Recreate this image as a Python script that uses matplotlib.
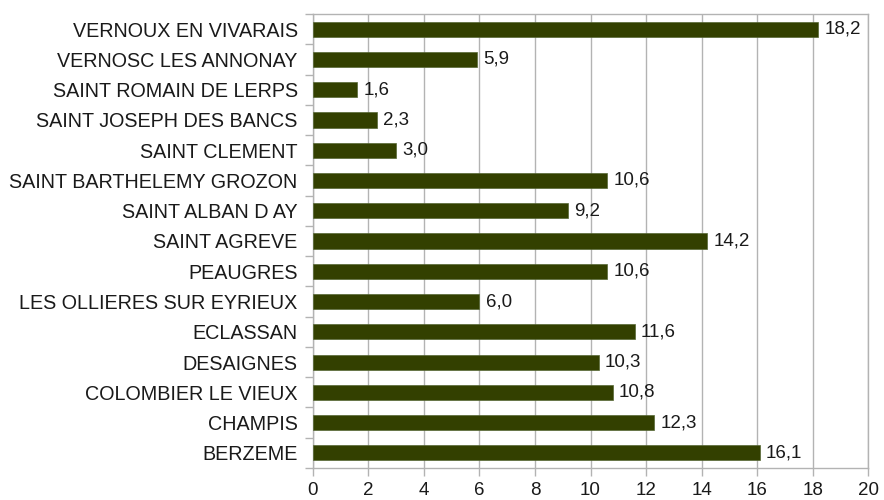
import matplotlib.pyplot as plt
import numpy as np

plt.rcParams['font.family'] = ['Liberation Sans', 'DejaVu Sans']

communes = ["VERNOUX EN VIVARAIS", "VERNOSC LES ANNONAY", "SAINT ROMAIN DE LERPS",
            "SAINT JOSEPH DES BANCS", "SAINT CLEMENT", "SAINT BARTHELEMY GROZON",
            "SAINT ALBAN D AY", "SAINT AGREVE", "PEAUGRES", "LES OLLIERES SUR EYRIEUX",
            "ECLASSAN", "DESAIGNES", "COLOMBIER LE VIEUX", "CHAMPIS", "BERZEME"]
values = [18.2, 5.9, 1.6, 2.3, 3.0, 10.6, 9.2, 14.2, 10.6, 6.0, 11.6, 10.3, 10.8, 12.3, 16.1]

fig = plt.figure(figsize=(8.84, 5), dpi=100)
ax = fig.add_axes([0.354, 0.064, 0.628, 0.908])

y = np.arange(len(communes))
ax.barh(y, values, height=0.5, color="#334000", edgecolor="#556633", linewidth=0.5, zorder=3)
for yi, v in zip(y, values):
    ax.text(v + 0.22, yi, f"{v:.1f}".replace(".", ","), va="center", ha="left",
            fontsize=13.5, color="#1a1a1a", zorder=4)

ax.set_ylim(len(communes) - 0.5, -0.5)
ax.set_xlim(0, 20)
ax.set_xticks(range(0, 21, 2))
ax.set_yticks(y)
ax.set_yticklabels(communes)
ax.set_yticks(np.arange(-0.5, len(communes), 1), minor=True)
ax.tick_params(axis="y", which="major", length=0, pad=11, labelsize=14.2, labelcolor="#1a1a1a")
ax.tick_params(axis="y", which="minor", length=6, color="#b3b3b3", width=1)
ax.tick_params(axis="x", length=6, color="#b3b3b3", width=1, labelsize=13.5, labelcolor="#1a1a1a", pad=4)
ax.grid(axis="x", color="#b3b3b3", linewidth=1, zorder=0)
for s in ax.spines.values():
    s.set_color("#b3b3b3")
    s.set_linewidth(1)

fig.savefig("out.png", dpi=100)
